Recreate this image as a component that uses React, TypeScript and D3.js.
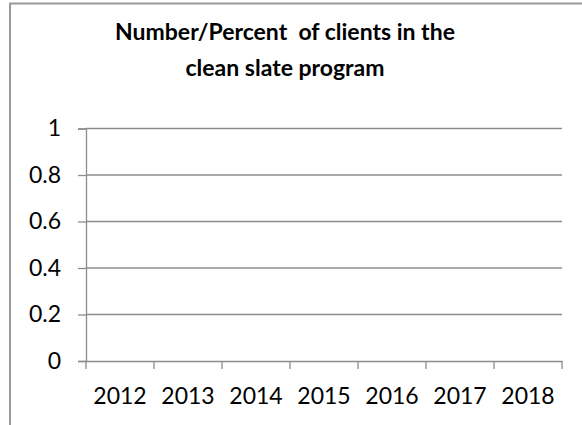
import { useRef, useEffect } from 'react'
import * as d3 from 'd3'

const years = ['2012', '2013', '2014', '2015', '2016', '2017', '2018']
const yTicks = [0, 0.2, 0.4, 0.6, 0.8, 1]
const titleLines = ['Number/Percent  of clients in the', 'clean slate program']

const W = 582
const H = 425

export default function App() {
  const svgRef = useRef<SVGSVGElement | null>(null)

  useEffect(() => {
    if (!svgRef.current) return
    const svg = d3.select(svgRef.current)
    svg.selectAll('*').remove()

    const left = 86
    const right = 562
    const top = 128.5
    const bottom = 361
    const font = 'Lato, sans-serif'

    const x = d3.scaleBand().domain(years).range([left, right])
    const y = d3.scaleLinear().domain([0, 1]).range([bottom, top])

    svg.append('rect').attr('width', W).attr('height', H).attr('fill', '#fff')

    // chart frame (runs past the right/bottom edges)
    svg
      .append('rect')
      .attr('x', 10)
      .attr('y', 3.5)
      .attr('width', W + 20)
      .attr('height', H + 20)
      .attr('fill', 'none')
      .attr('stroke', '#9a9a9a')
      .attr('stroke-width', 2)

    // title
    const title = svg
      .append('text')
      .attr('text-anchor', 'middle')
      .attr('font-family', font)
      .attr('font-weight', 700)
      .attr('font-size', 23)
      .attr('fill', '#000')
    titleLines.forEach((t, i) => {
      title
        .append('tspan')
        .attr('x', 285)
        .attr('y', 40 + i * 36)
        .style('white-space', 'pre')
        .text(t)
    })

    // gridlines
    svg
      .append('g')
      .selectAll('line')
      .data(yTicks.filter((d) => d > 0))
      .join('line')
      .attr('x1', left)
      .attr('x2', right)
      .attr('y1', (d) => y(d))
      .attr('y2', (d) => y(d))
      .attr('stroke', '#8c8c8c')
      .attr('stroke-width', 1.3)

    // y axis
    const yAxis = svg
      .append('g')
      .attr('transform', `translate(${left},0)`)
      .call(d3.axisLeft(y).tickValues(yTicks).tickSize(8).tickPadding(17).tickFormat((d) => String(d)))
    yAxis.select('.domain').attr('stroke', '#8c8c8c').attr('stroke-width', 1.3)
    yAxis.selectAll('.tick line').attr('stroke', '#8c8c8c').attr('stroke-width', 1.3)
    yAxis
      .selectAll('.tick text')
      .attr('font-family', font)
      .attr('font-size', 23)
      .attr('fill', '#000')

    // x axis
    const xAxis = svg
      .append('g')
      .attr('transform', `translate(0,${bottom})`)
      .call(d3.axisBottom(x).tickSize(0).tickPadding(27))
    xAxis.select('.domain').attr('stroke', '#8c8c8c').attr('stroke-width', 1.3)
    xAxis
      .selectAll('.tick text')
      .attr('font-family', font)
      .attr('font-size', 23)
      .attr('fill', '#000')

    // category boundary ticks
    const bounds = years.map((d) => x(d) as number).concat([right])
    svg
      .append('g')
      .selectAll('line')
      .data(bounds)
      .join('line')
      .attr('x1', (d) => d)
      .attr('x2', (d) => d)
      .attr('y1', bottom)
      .attr('y2', bottom + 8)
      .attr('stroke', '#8c8c8c')
      .attr('stroke-width', 1.3)
  }, [])

  return (
    <svg
      ref={svgRef}
      width={W}
      height={H}
      style={{ position: 'absolute', left: 0, top: 0 }}
    />
  )
}
